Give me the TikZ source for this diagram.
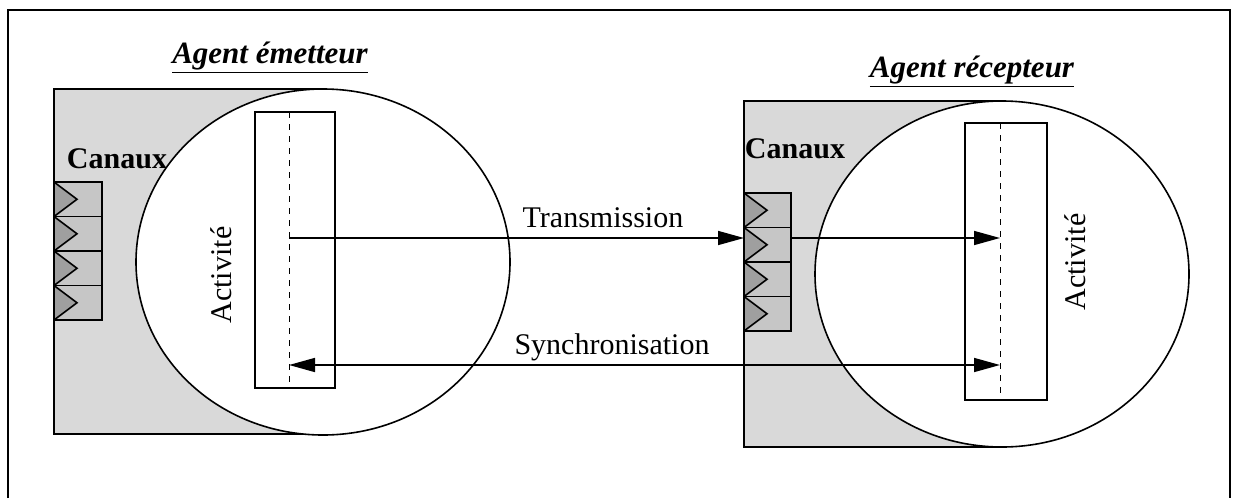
\documentclass[tikz,border=0pt]{standalone}
\usepackage{fontspec}
\setmainfont{Liberation Serif}
\usetikzlibrary{positioning,
	arrows.meta,
	calc}

\tikzset{
	lbl/.style={font=\fontsize{15}{18}\selectfont, inner sep=0pt},
	titre/.style={lbl, font=\fontsize{15.5}{18}\selectfont\bfseries\itshape},
	zone/.style={fill=gray!30},
	canal/.style={draw, fill=gray!45},
	dent/.style={draw, fill=gray!75},
	activite/.style={draw, line width=0.8pt, fill=white, inner sep=0pt},
	fleche/.style={line width=0.8pt, -{Triangle[length=13pt,width=7pt]}},
}

\begin{document}
\begin{tikzpicture}[x=0.5pt, y=-0.5pt, line width=0.8pt]
	\useasboundingbox (0,0) rectangle (1236,498);
	% cadre
	\draw[line width=1pt] (8,498) -- (8,10) -- (1230,10) -- (1230,498);

	% agent emetteur
	\fill[zone] (54,89) rectangle (323,434);
	\draw (323,89) -- (54,89) -- (54,434) -- (323,434);
	\foreach \i in {0,1,2,3} {
		\pgfmathsetmacro{\yy}{182+\i*34.5}
		\draw[canal] (54,\yy) rectangle (102,\yy+34.5);
		\draw[dent] (54,\yy) -- (77,\yy+17.25) -- (54,\yy+34.5) -- cycle;
	}
	\draw[fill=white] (323,262) ellipse [x radius=187, y radius=173];
	\node[activite, minimum width=40pt, minimum height=138pt] (actE) at (295,250) {};
	\draw[dashed, line width=0.5pt] (289,112) -- (289,386);
	\coordinate (tE) at (289,238);
	\coordinate (sE) at (289,365);

	% agent recepteur
	\fill[zone] (744,101) rectangle (1002,447);
	\draw (1002,101) -- (744,101) -- (744,447) -- (1002,447);
	\foreach \i in {0,1,2,3} {
		\pgfmathsetmacro{\yy}{193+\i*34.5}
		\draw[canal] (744,\yy) rectangle (791,\yy+34.5);
		\draw[dent] (744,\yy) -- (767,\yy+17.25) -- (744,\yy+34.5) -- cycle;
	}
	\draw[fill=white] (1002,274) ellipse [x radius=187, y radius=173];
	\node[activite, minimum width=41pt, minimum height=138.5pt] (actR) at (1006,261.5) {};
	\draw[dashed, line width=0.5pt] (1000,123) -- (1000,400);
	\coordinate (tR) at (1000,238);
	\coordinate (sR) at (1000,365);
	\coordinate (cIn) at (744,238);
	\coordinate (cOut) at (791,238);

	% fleches
	\draw[fleche] (tE) -- (cIn);
	\draw[fleche] (cOut) -- (tR);
	\draw[fleche, {Triangle[length=13pt,width=7pt]}-{Triangle[length=13pt,width=7pt]}] (sE) -- (sR);

	% textes
	\node[titre] (tEm) at (270,58) {\underline{Agent émetteur}};
	\node[titre] (tRe) at (972,72) {\underline{Agent récepteur}};
	\node[lbl, font=\fontsize{15}{18}\selectfont\bfseries] (cE) at (117,159) {Canaux};
	\node[lbl, font=\fontsize{15}{18}\selectfont\bfseries] (cR) at (795,149) {Canaux};
	\node[lbl, rotate=90] (aE) at (221,275) {Activité};
	\node[lbl, rotate=90] (aR) at (1075,262) {Activité};
	\node[lbl] (trans) at (603,218) {Transmission};
	\node[lbl] (sync) at (612,347) {Synchronisation};
\end{tikzpicture}
\end{document}
